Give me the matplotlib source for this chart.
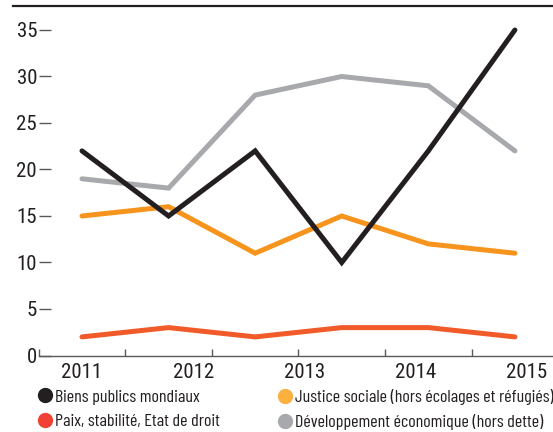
import numpy as np
import matplotlib
matplotlib.use("Agg")
from matplotlib import pyplot as plt
from matplotlib.lines import Line2D

plt.rcParams['font.family'] = ['Roboto Condensed', 'Barlow Condensed', 'DejaVu Sans']
legendFamily = ['Barlow Condensed', 'Roboto Condensed', 'DejaVu Sans']

# valeurs
yearLabels = ["2011", "2012", "2013", "2014", "2015"]
biensPublics = [22, 15, 22, 10, 22, 35]
paixStabilite = [2, 3, 2, 3, 3, 2]
justiceSociale = [15, 16, 11, 15, 12, 11]
devEconomique = [19, 18, 28, 30, 29, 22]
yTicks = [0, 5, 10, 15, 20, 25, 30, 35]

nameBiens = "Biens publics mondiaux"
namePaix = "Paix, stabilité, Etat de droit"
nameJustice = "Justice sociale (hors écolages et réfugiés)"
nameDev = "Développement économique (hors dette)"

BLACK = "#231f20"
GREY = "#a7a9ac"
ORANGE = "#f7941d"
RED = "#f15a29"
TEXT = "#231f20"
AXIS = "#58595b"

W, H = 553, 432
fig = plt.figure(figsize=(W / 100, H / 100), dpi=100)
ax = fig.add_axes([38.7 / W, (H - 355.5) / H, 1 - 38.7 / W, (355.5 - 10) / H])

xPts = np.arange(len(biensPublics))
lineKw = dict(lw=3.6, solid_joinstyle="miter", solid_capstyle="round")
ax.plot(xPts, devEconomique, color=GREY, **lineKw)
ax.plot(xPts, justiceSociale, color=ORANGE, **lineKw)
ax.plot(xPts, paixStabilite, color=RED, **lineKw)
ax.plot(xPts, biensPublics, color=BLACK, **lineKw)

ax.set_xlim(-0.5, 5.44)
ax.set_ylim(0, 37.15)

# axes
for s in ["top", "right", "left"]:
    ax.spines[s].set_visible(False)
ax.spines["bottom"].set_color(AXIS)
ax.spines["bottom"].set_linewidth(1.0)

labelPos = np.arange(len(yearLabels)) * 1.284
ax.set_xticks(labelPos)
ax.set_xticklabels(yearLabels)
ax.set_xticks(np.arange(-0.5, 5.0, 1.0), minor=True)
ax.tick_params(axis="x", which="major", length=0, pad=5.5, labelsize=15, labelcolor=TEXT)
ax.tick_params(axis="x", which="minor", direction="in", length=5, width=1, color=AXIS)

ax.set_yticks(yTicks)
ax.tick_params(axis="y", direction="in", length=8.6, width=1, color=AXIS,
               pad=1.2, labelsize=15, labelcolor=TEXT)

# filet du haut
fig.add_artist(Line2D([13 / W, 1], [1 - 6 / H, 1 - 6 / H], transform=fig.transFigure,
                      color=BLACK, lw=1.6))

# légende
def dot(c):
    return Line2D([], [], ls="none", marker="o", markersize=10, color=c)

legKw = dict(loc="upper left", frameon=False, borderpad=0, borderaxespad=0,
             handlelength=0.75, handletextpad=0.2, labelspacing=0.5,
             prop=dict(family=legendFamily, size=13), labelcolor=TEXT)
fig.legend([dot(BLACK), dot("#ef4136")], [nameBiens, namePaix],
           bbox_to_anchor=(37.9 / W, 1 - 389 / H), **legKw)
fig.legend([dot("#fbb040"), dot(GREY)], [nameJustice, nameDev],
           bbox_to_anchor=(278.2 / W, 1 - 389 / H), **legKw)

fig.savefig("out.png", dpi=100)
